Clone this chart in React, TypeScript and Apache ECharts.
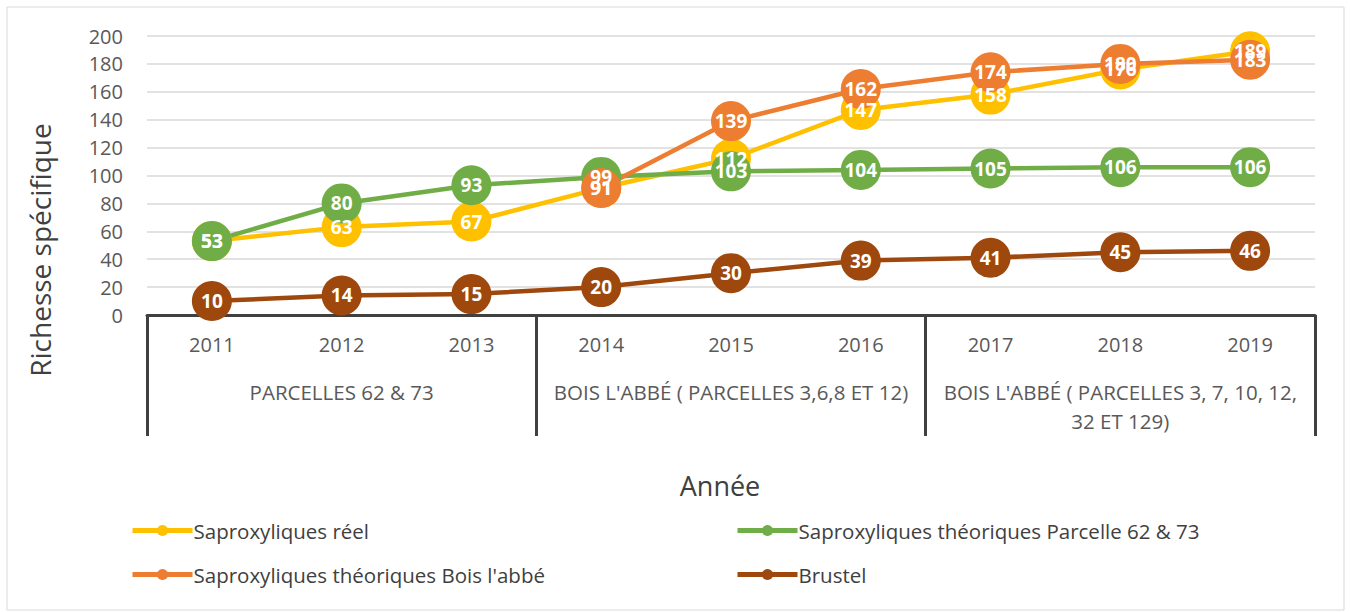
import React, { useEffect, useRef } from "react";
import * as echarts from "echarts";

const years = ["2011", "2012", "2013", "2014", "2015", "2016", "2017", "2018", "2019"];
const groups = [
  "PARCELLES 62 & 73",
  "BOIS L'ABBÉ ( PARCELLES 3,6,8 ET 12)",
  "BOIS L'ABBÉ ( PARCELLES 3, 7, 10, 12,\n32 ET 129)",
];
const reel = [53, 63, 67, 91, 112, 147, 158, 176, 189];
const theoParcelle = [53, 80, 93, 99, 103, 104, 105, 106, 106];
const theoBois = [null, null, null, 91, 139, 162, 174, 180, 183];
const brustel = [10, 14, 15, 20, 30, 39, 41, 45, 46];
const yTicks = { min: 0, max: 200, interval: 20 };

const names = [
  "Saproxyliques réel",
  "Saproxyliques théoriques Parcelle 62 & 73",
  "Saproxyliques théoriques Bois l'abbé",
  "Brustel",
];
const colors = ["#FFC000", "#70AD47", "#ED7D31", "#9E480E"];

const FONT = "'Open Sans', 'Noto Sans', sans-serif";

export default function App() {
  const ref = useRef<HTMLDivElement>(null);
  useEffect(() => {
    if (!ref.current) return;
    const chart = echarts.init(ref.current, undefined, { renderer: "svg" });
    const datas = [reel, theoParcelle, theoBois, brustel];
    const legendCommon = {
      orient: "vertical",
      top: 515,
      itemWidth: 60,
      itemHeight: 14,
      itemGap: 23,
      lineStyle: { width: 5 },
      textStyle: { fontFamily: FONT, fontSize: 20.5, color: "#404040", padding: [0, 0, 0, -4] },
    };
    chart.setOption({
      animation: false,
      textStyle: { fontFamily: FONT },
      grid: { left: 147, right: 35, top: 36, bottom: 297 },
      legend: [
        { ...legendCommon, left: 125, data: [names[0], names[2]] },
        { ...legendCommon, left: 730, data: [names[1], names[3]] },
      ],
      xAxis: [
        {
          type: "category",
          data: years,
          position: "bottom",
          axisLine: { lineStyle: { color: "#404040", width: 3 } },
          axisTick: { show: false },
          axisLabel: { interval: 0, margin: 19, fontSize: 20, color: "#595959", fontFamily: FONT },
        },
        {
          type: "category",
          data: groups,
          position: "bottom",
          axisLine: { show: false },
          axisTick: { show: true, interval: 0, length: 121, lineStyle: { color: "#404040", width: 3 } },
          axisLabel: {
            interval: 0,
            hideOverlap: false,
            margin: 62,
            fontSize: 20.5,
            color: "#595959",
            fontFamily: FONT,
            lineHeight: 29,
          },
        },
      ],
      yAxis: {
        type: "value",
        min: yTicks.min,
        max: yTicks.max,
        interval: yTicks.interval,
        axisLine: { show: false },
        axisTick: { show: false },
        axisLabel: { margin: 24, fontSize: 20, color: "#595959", fontFamily: FONT },
        splitLine: { lineStyle: { color: "#D9D9D9", width: 1.5 } },
      },
      graphic: [
        {
          type: "rect",
          shape: { x: 7, y: 7, width: 1337, height: 603 },
          style: { fill: "none", stroke: "#D9D9D9", lineWidth: 1 },
          silent: true,
          z: -10,
        },
        {
          type: "text",
          x: 40,
          y: 250,
          rotation: Math.PI / 2,
          style: {
            text: "Richesse spécifique",
            fontSize: 28,
            fontFamily: FONT,
            fill: "#404040",
            align: "center",
            verticalAlign: "middle",
          },
        },
        {
          type: "text",
          x: 720,
          y: 485,
          style: {
            text: "Année",
            fontSize: 27,
            fontFamily: FONT,
            fill: "#404040",
            align: "center",
            verticalAlign: "middle",
          },
        },
      ],
      series: datas.map((d, i) => ({
        name: names[i],
        type: "line",
        data: d,
        xAxisIndex: 0,
        symbol: "circle",
        symbolSize: 40,
        showSymbol: true,
        connectNulls: false,
        color: colors[i],
        lineStyle: { width: 4.5, color: colors[i] },
        itemStyle: { color: colors[i] },
        label: {
          show: true,
          position: "inside",
          color: "#FFFFFF",
          fontWeight: "bold",
          fontSize: 19,
          fontFamily: FONT,
        },
      })),
    });
    return () => chart.dispose();
  }, []);
  return (
    <div
      ref={ref}
      style={{ position: "absolute", left: 0, top: 0, width: 1350, height: 612, background: "#fff" }}
    />
  );
}
